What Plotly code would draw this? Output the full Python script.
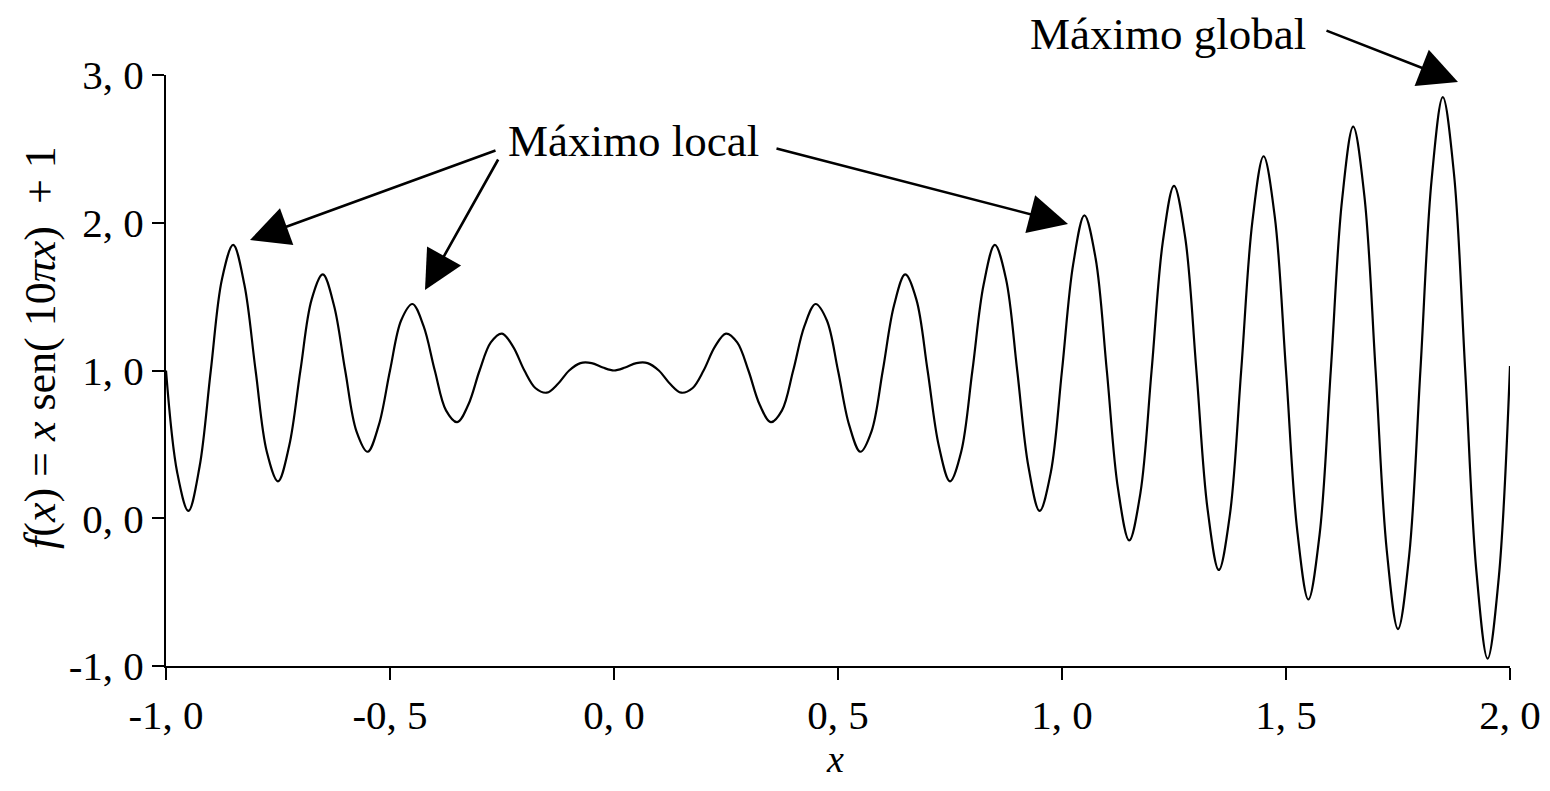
import plotly.graph_objects as go

x_vals = [
    -1.000, -0.975, -0.950, -0.925, -0.900, -0.875, -0.850, -0.825, -0.800, -0.775,
    -0.750, -0.725, -0.700, -0.675, -0.650, -0.625, -0.600, -0.575, -0.550, -0.525,
    -0.500, -0.475, -0.450, -0.425, -0.400, -0.375, -0.350, -0.325, -0.300, -0.275,
    -0.250, -0.225, -0.200, -0.175, -0.150, -0.125, -0.100, -0.075, -0.050, -0.025,
    0.000, 0.025, 0.050, 0.075, 0.100, 0.125, 0.150, 0.175, 0.200, 0.225,
    0.250, 0.275, 0.300, 0.325, 0.350, 0.375, 0.400, 0.425, 0.450, 0.475,
    0.500, 0.525, 0.550, 0.575, 0.600, 0.625, 0.650, 0.675, 0.700, 0.725,
    0.750, 0.775, 0.800, 0.825, 0.850, 0.875, 0.900, 0.925, 0.950, 0.975,
    1.000, 1.025, 1.050, 1.075, 1.100, 1.125, 1.150, 1.175, 1.200, 1.225,
    1.250, 1.275, 1.300, 1.325, 1.350, 1.375, 1.400, 1.425, 1.450, 1.475,
    1.500, 1.525, 1.550, 1.575, 1.600, 1.625, 1.650, 1.675, 1.700, 1.725,
    1.750, 1.775, 1.800, 1.825, 1.850, 1.875, 1.900, 1.925, 1.950, 1.975,
    2.000,
]
y_vals = [
    1.00, 0.31, 0.05, 0.35, 1.00, 1.62, 1.85, 1.58, 1.00, 0.45,
    0.25, 0.49, 1.00, 1.48, 1.65, 1.44, 1.00, 0.59, 0.45, 0.63,
    1.00, 1.34, 1.45, 1.30, 1.00, 0.73, 0.65, 0.77, 1.00, 1.19,
    1.25, 1.16, 1.00, 0.88, 0.85, 0.91, 1.00, 1.05, 1.05, 1.02,
    1.00, 1.02, 1.05, 1.05, 1.00, 0.91, 0.85, 0.88, 1.00, 1.16,
    1.25, 1.19, 1.00, 0.77, 0.65, 0.73, 1.00, 1.30, 1.45, 1.34,
    1.00, 0.63, 0.45, 0.59, 1.00, 1.44, 1.65, 1.48, 1.00, 0.49,
    0.25, 0.45, 1.00, 1.58, 1.85, 1.62, 1.00, 0.35, 0.05, 0.31,
    1.00, 1.72, 2.05, 1.76, 1.00, 0.20, -0.15, 0.17, 1.00, 1.87,
    2.25, 1.90, 1.00, 0.06, -0.35, 0.03, 1.00, 2.01, 2.45, 2.04,
    1.00, -0.08, -0.55, -0.11, 1.00, 2.15, 2.65, 2.18, 1.00, -0.22,
    -0.75, -0.25, 1.00, 2.29, 2.85, 2.33, 1.00, -0.36, -0.95, -0.40,
    1.03,
]

x_ticks = [-1.0, -0.5, 0.0, 0.5, 1.0, 1.5, 2.0]
x_tick_labels = ["-1, 0", "-0, 5", "0, 0", "0, 5", "1, 0", "1, 5", "2, 0"]
y_ticks = [-1.0, 0.0, 1.0, 2.0, 3.0]
y_tick_labels = ["-1, 0", "0, 0", "1, 0", "2, 0", "3, 0"]

FONT = "Liberation Serif"

fig = go.Figure()
fig.add_trace(go.Scatter(
    x=x_vals, y=y_vals, mode="lines",
    line=dict(color="black", width=2.2, shape="spline", smoothing=1.0),
    showlegend=False, hoverinfo="skip",
))

# page-pixel helpers (plot area spans x 166..1510, y 75..666 on the page)
def px_x(p):
    return -1 + (p - 166) / 448.0

def px_y(p):
    return 3 - (p - 75) / 147.75

def paper_x(p):
    return (p - 166) / 1344.0

def paper_y(p):
    return (666 - p) / 591.0

arrows = [
    # (tail px, tail py, tip px, tip py)
    (497, 150, 250, 240),
    (499, 158, 425, 290),
    (775, 148, 1068, 224),
    (1325, 30, 1458, 82),
]
for tx, ty, hx, hy in arrows:
    fig.add_annotation(
        x=px_x(hx), y=px_y(hy), ax=px_x(tx), ay=px_y(ty),
        xref="x", yref="y", axref="x", ayref="y",
        showarrow=True, arrowhead=2, arrowsize=3.0, arrowwidth=2.6,
        arrowcolor="black", text="", standoff=0, startstandoff=0,
    )

fig.add_annotation(x=paper_x(633), y=paper_y(141), xref="paper", yref="paper", text="Máximo local",
                   showarrow=False, font=dict(family=FONT, size=45, color="black"),
                   xanchor="center", yanchor="middle")
fig.add_annotation(x=paper_x(1168), y=paper_y(34), xref="paper", yref="paper", text="Máximo global",
                   showarrow=False, font=dict(family=FONT, size=45, color="black"),
                   xanchor="center", yanchor="middle")

# axis titles
fig.add_annotation(x=paper_x(40), y=paper_y(348), xref="paper", yref="paper",
                   text="<i>f</i>(<i>x</i>) = <i>x</i> sen( 10<i>πx</i>)  + 1",
                   textangle=-90, showarrow=False,
                   font=dict(family=FONT, size=44, color="black"),
                   xanchor="center", yanchor="middle")
fig.add_annotation(x=paper_x(835), y=paper_y(781), xref="paper", yref="paper",
                   text="<i>x</i>", showarrow=False,
                   font=dict(family=FONT, size=38, color="black"),
                   xanchor="center", yanchor="bottom", borderpad=0)

fig.update_xaxes(
    range=[-1.0, 2.0], tickvals=x_ticks, ticktext=x_tick_labels, automargin=False,
    showgrid=False, zeroline=False, showline=True, linecolor="black", linewidth=2,
    ticks="outside", ticklen=12, tickwidth=2, tickcolor="black",
    tickfont=dict(family=FONT, size=41, color="black"),
)
fig.update_yaxes(
    range=[-1.0, 3.0], tickvals=y_ticks, ticktext=y_tick_labels, automargin=False,
    showgrid=False, zeroline=False, showline=True, linecolor="black", linewidth=2,
    ticks="outside", ticklen=12, tickwidth=2, tickcolor="black",
    tickfont=dict(family=FONT, size=41, color="black"),
)
# the page body has an 8px margin, so the figure is drawn at (8, 8)
fig.update_layout(
    width=1534, height=775, autosize=False,
    margin=dict(l=158, r=32, t=67, b=117),
    plot_bgcolor="white", paper_bgcolor="white",
    font=dict(family=FONT, color="black"),
)
fig.write_html("out.html")
